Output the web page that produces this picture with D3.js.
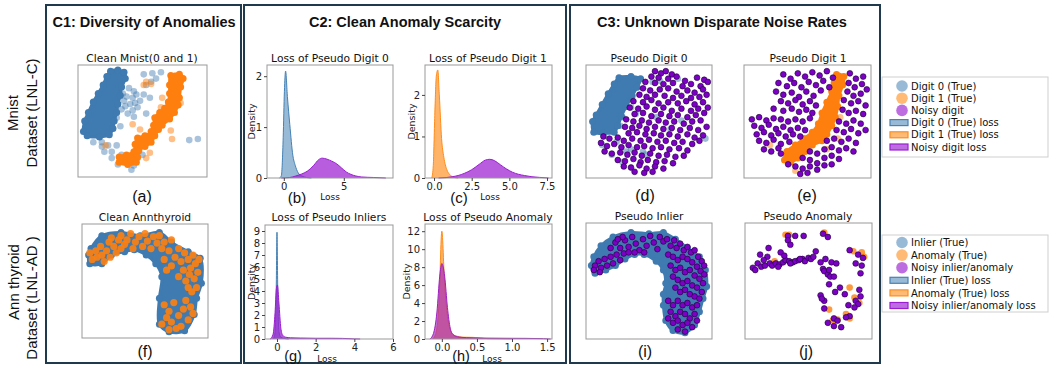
<!DOCTYPE html>
<html><head><meta charset="utf-8">
<script src="https://cdn.jsdelivr.net/npm/d3@7"></script>
<style>body{margin:0;background:#fff}svg{display:block}</style>
</head><body>
<script>
// ---------------- DATA ----------------
const sectionTitles = ["C1: Diversity of Anomalies", "C2: Clean Anomaly Scarcity", "C3: Unknown Disparate Noise Rates"];
const rowLabels = [["Mnist", "Dataset (LNL-C)"], ["Ann thyroid", "Dataset (LNL-AD )"]];
const panelLetters = ["(a)","(b)","(c)","(d)","(e)","(f)","(g)","(h)","(i)","(j)"];
const panelTitles = ["Clean Mnist(0 and 1)","Loss of Pseudo Digit 0","Loss of Pseudo Digit 1","Pseudo Digit 0","Pseudo Digit 1",
                     "Clean Annthyroid","Loss of Pseudo Inliers","Loss of Pseudo Anomaly","Pseudo Inlier","Pseudo Anomaly"];
const legendTop = ["Digit 0 (True)","Digit 1 (True)","Noisy digit","Digit 0 (True) loss","Digit 1 (True) loss","Noisy digit loss"];
const legendBottom = ["Inlier (True)","Anomaly (True)","Noisy inlier/anomaly","Inlier (True) loss","Anomaly (True) loss","Noisy inlier/anomaly loss"];

// (a) Clean Mnist — embedding coords (0-100)
const aBlueCluster = [[24,3],[30,2],[35,4],[36,10],[33,18],[32,26],[30,34],[29,42],[27,50],[26,57],[23,63],[15,65],[5,64],[2,60],[3,50],[6,42],[10,32],[14,24],[18,16],[21,8]];
const aOrangeCluster = [[73,7],[80,6],[83,10],[81,18],[80,28],[79,35],[76,42],[72,48],[66,54],[63,58],[60,64],[57,70],[52,74],[47,78],[46,84],[45,89],[38,91],[31,89],[31,84],[37,82],[43,79],[44,72],[46,66],[52,64],[57,60],[59,54],[60,47],[64,42],[68,38],[71,32],[72,24],[72,16]];
const aBluePts = [[51,6],[58,5],[65,4],[61,10],[43,22],[42,28],[35,31],[40,34],[33,39],[29,47],[43,46],[38,43],[42,40],[46,37],[48,31],[53,16],[57,13],[39,19],[34,24],[10,70],[17,74],[22,73],[25,79],[29,73],[33,82],[41,96],[43,92],[30,91],[95,67],[88,68],[17,70],[19,79],[25,85],[46,85],[50,82],[37,89],[32,55],[53,43],[56,28],[51,25],[36,36],[44,33],[37,27],[45,25]];
const aOrangePts = [[53,13],[57,15],[66,28],[74,27],[81,33],[65,37],[42,53],[48,58],[74,67],[73,59],[20,73],[53,85],[56,80],[51,16]];

// (f) Clean Annthyroid
const fBlueCluster = [[5,20],[14,8],[30,5],[46,8],[62,5],[72,14],[86,23],[96,29],[97,52],[93,66],[91,81],[83,96],[70,97],[62,90],[62,66],[64,46],[59,34],[51,26],[41,21],[33,23],[22,26],[14,34],[4,34],[3,26]];
const fOrangePts = [[4,24],[6,30],[9,22],[10,28],[13,18],[14,26],[16,32],[18,22],[20,14],[21,28],[24,18],[26,24],[28,12],[30,20],[33,16],
 [22,10],[30,8],[35,12],[38,6],[42,14],[45,9],[48,18],[50,6],[52,13],[55,20],[57,9],[60,15],[62,8],[64,20],[40,20],
 [66,14],[70,22],[72,12],[75,28],[78,20],[80,32],[83,24],[86,30],[88,38],[90,26],[92,34],[94,42],[95,30],[91,48],[87,44],[84,50],[93,56],[89,60],[82,40],[78,46],[66,30],[68,40],[72,36],[86,56],
 [66,72],[70,78],[74,70],[78,82],[82,76],[86,86],[80,92],[72,88],[68,84],[76,94],[84,68],[88,74],[90,80],[64,90],[70,95]];

// (d) Pseudo Digit 0
const dBlueCluster = [[25,9],[35,8],[43,10],[40,18],[36,26],[31,36],[27,45],[24,54],[21,60],[12,61],[4,60],[3,50],[6,44],[11,34],[16,24],[21,15]];
const dBluePts = [[36,21],[40,18],[53,13],[59,12],[74,10],[35,37],[39,43],[77,49],[97,66],[23,69],[31,78],[35,76],[47,81],[45,78],[28,88],[11,72],[19,81],[68,57],[56,46],[28,46],[26,54]];
const dNoisy = [[55,3],[60,5],[64,3],[69,6],[52,8],[58,9],[66,10],[73,8],[80,12],[90,9],[96,11],[47,13],[55,14],[62,15],[70,14],[78,17],[85,15],[93,17],[99,13],
 [45,19],[51,21],[59,20],[66,19],[73,22],[82,21],[88,23],[95,20],
 [42,25],[48,27],[55,25],[63,26],[70,28],[77,26],[85,28],[92,27],[98,25],
 [37,31],[45,32],[52,30],[58,33],[66,32],[74,33],[81,31],[88,34],[95,32],
 [34,37],[41,38],[48,36],[55,39],[62,37],[69,40],[77,38],[85,40],[91,38],[99,37],
 [38,43],[45,42],[52,45],[60,43],[67,45],[74,44],[82,46],[89,44],[96,42],
 [31,48],[37,50],[44,49],[50,51],[58,49],[64,51],[71,50],[79,52],[86,50],[93,49],
 [30,55],[36,56],[42,54],[48,57],[55,55],[62,57],[69,56],[76,58],[84,56],[91,58],[98,55],
 [33,61],[40,60],[47,62],[54,61],[60,63],[67,62],[74,64],[82,62],[88,65],[95,63],
 [12,64],[17,66],[24,65],[29,68],[36,66],[43,68],[50,67],[57,69],[64,68],[71,70],[78,69],[86,71],[92,68],
 [10,70],[15,73],[21,71],[27,74],[33,72],[40,74],[46,73],[53,75],[60,74],[67,76],[75,75],[82,77],
 [13,78],[19,80],[26,79],[32,81],[38,79],[44,82],[51,80],[58,82],[65,81],[72,83],[79,82],
 [24,86],[30,87],[37,85],[43,88],[49,86],[56,88],[63,87],[70,89],
 [29,92],[35,93],[42,91],[48,94],[55,92],[62,94],[38,97],[46,98],[53,97]];

// (e) Pseudo Digit 1
const eOrangeCluster = [[74,6],[80,8],[79,16],[76,26],[75,36],[73,46],[70,54],[66,62],[62,68],[54,72],[48,78],[42,84],[36,88],[31,86],[33,78],[40,72],[47,66],[54,60],[59,52],[62,42],[66,32],[70,22],[72,14]];
const eOrangePts = [[77,46],[40,96],[75,66],[66,76],[19,72]];
const eNoisy = [[30,6],[36,10],[42,5],[48,8],[54,4],[60,7],[66,3],[71,9],[85,5],[90,10],[96,8],
 [26,14],[33,17],[39,14],[45,18],[51,13],[57,16],[63,12],[68,18],[84,14],[89,18],[95,15],[99,20],
 [24,22],[30,25],[37,23],[43,27],[49,22],[55,26],[61,21],[83,22],[88,26],[94,24],
 [28,31],[34,33],[40,30],[46,34],[52,31],[57,35],[80,30],[86,33],[92,31],[98,35],
 [22,38],[30,40],[37,38],[43,41],[49,39],[54,42],[79,39],[84,42],[90,40],[96,43],
 [4,48],[10,46],[16,49],[22,47],[28,48],[34,50],[40,48],[46,50],[52,47],
 [6,54],[12,56],[18,53],[24,57],[30,55],[36,58],[42,56],[48,58],[76,50],[82,52],[88,49],[94,52],
 [8,62],[14,60],[20,63],[26,61],[32,64],[38,62],[44,64],[74,58],[80,60],[86,57],[92,61],[98,58],
 [10,68],[16,70],[22,67],[28,71],[35,69],[66,68],[72,66],[78,69],[84,66],[90,70],
 [14,76],[20,78],[26,75],[52,78],[58,80],[64,76],[70,74],[76,77],[82,75],[88,78],
 [34,90],[28,80],[46,84],[52,86],[58,89],[64,84],[70,82],[76,85],
 [40,92],[46,94],[52,92],[58,95],[64,91],[70,90],[44,99],[50,98]];

// (i) Pseudo Inlier
const iBlueCluster = [[4,28],[10,18],[20,10],[35,6],[50,7],[62,6],[72,12],[82,20],[92,28],[97,40],[98,55],[95,66],[92,78],[88,90],[80,97],[70,95],[64,86],[62,72],[62,62],[64,52],[62,40],[56,32],[46,26],[38,26],[30,30],[22,36],[14,40],[5,43],[2,36]];
const iNoisy = [[5,36],[4,40],[8,32],[10,38],[13,30],[15,36],[18,28],[20,34],[23,26],[26,31],[9,42],[29,25],
 [18,20],[22,15],[26,20],[30,13],[33,19],[36,10],[39,16],[42,22],[45,12],[48,18],[51,9],[54,15],[57,21],[59,10],[62,14],[38,24],[28,10],[46,24],[33,24],[24,12],
 [65,12],[68,18],[71,13],[73,20],[76,16],[79,22],[82,19],[85,24],[88,22],[91,28],[94,32],[96,36],[66,26],[70,28],[74,31],[78,28],[82,30],[86,33],[90,37],[93,41],[96,44],
 [68,36],[72,40],[76,38],[80,42],[84,40],[88,45],[92,48],[95,52],[70,46],[74,49],[78,52],[82,50],[86,54],[90,56],[94,60],[72,56],[76,60],[80,58],[84,62],[88,64],[92,66],
 [66,68],[70,72],[74,68],[78,72],[82,70],[86,74],[90,72],[68,78],[72,82],[76,78],[80,80],[84,84],[88,80],[70,88],[74,86],[78,90],[82,88],[86,92],[74,94],[80,96],[66,84],[90,86]];

// (j) Pseudo Anomaly
const jOrangePts = [[34,8],[63,6],[96,28],[87,23],[22,32],[84,56],[88,65],[81,80],[84,84],[70,86],[74,85],[92,70],[67,76],[31,8],[94,24]];
const jNoisy = [[4,38],[6,40],[8,34],[10,26],[11,37],[14,36],[16,28],[18,34],[20,36],[23,34],[26,35],[29,33],[31,31],[34,32],[37,33],[39,32],[42,31],[45,30],[47,32],[50,29],[52,30],[54,28],[56,23],[43,30],[35,34],[25,37],[13,31],
 [33,9],[39,9],[46,9],[33,13],[35,17],[17,20],[62,7],[66,10],[27,24],[30,27],
 [60,33],[62,39],[63,41],[66,44],[68,46],[71,46],[69,33],[73,34],[67,40],[64,30],
 [84,22],[91,26],[95,29],[93,43],[89,34],[94,36],
 [67,53],[72,60],[60,63],[63,68],[61,66],[63,75],[66,88],[71,91],[77,92],[71,84],[83,72],[84,82],[89,68],[91,71],[88,74],[92,58],[93,64],[80,62],[76,56],[81,83],[74,86]];

// KDE loss curves [loss, density]
const bDigit0 = [[-0.35,0],[-0.2,0.05],[-0.05,0.8],[0.05,1.7],[0.15,2.1],[0.3,1.6],[0.5,1.05],[0.75,0.45],[0.95,0.25],[1.2,0.1],[1.5,0.04],[1.9,0.01],[2.3,0]];
const bNoisy = [[-0.2,0],[0.5,0.01],[1,0.04],[1.5,0.08],[2,0.14],[2.5,0.25],[2.9,0.36],[3.2,0.39],[3.6,0.37],[4.0,0.33],[4.4,0.28],[4.8,0.2],[5.2,0.12],[5.6,0.07],[6,0.04],[6.5,0.02],[7.5,0.01],[8.5,0]];
const cDigit1 = [[-0.15,0],[-0.05,0.3],[0.05,1.5],[0.15,2.45],[0.25,2.6],[0.35,2.0],[0.5,0.95],[0.65,0.5],[0.85,0.2],[1.05,0.08],[1.3,0.02],[1.6,0]];
const cNoisy = [[0.3,0],[0.8,0.01],[1.2,0.03],[1.6,0.06],[2.0,0.11],[2.5,0.2],[3.0,0.33],[3.4,0.43],[3.7,0.45],[4.0,0.42],[4.4,0.32],[4.8,0.22],[5.2,0.14],[5.6,0.09],[6.0,0.06],[6.5,0.03],[7.0,0.015],[7.6,0]];
const gInlier = [[-0.2,0],[-0.1,0.5],[-0.04,4],[0,8.9],[0.04,4],[0.1,0.6],[0.2,0.15],[0.35,0.05],[0.6,0]];
const gNoisy = [[-0.35,0],[-0.2,0.4],[-0.1,2.2],[-0.03,4.2],[0.02,4.5],[0.1,3.0],[0.2,0.9],[0.3,0.3],[0.45,0.15],[0.7,0.1],[1.2,0.08],[2,0.06],[2.8,0.06],[3.4,0.05],[4,0.01],[4.3,0]];
const hAnomaly = [[-0.13,0],[-0.08,0.8],[-0.04,4],[0,12],[0.04,6],[0.08,2.5],[0.12,1],[0.16,0.5],[0.2,0.35],[0.3,0.2],[0.45,0.18],[0.55,0.12],[0.65,0.04],[0.8,0.02],[1.0,0]];
const hNoisy = [[-0.17,0],[-0.12,0.6],[-0.07,3],[-0.03,7],[0.0,8.4],[0.04,7],[0.08,3.5],[0.12,1.2],[0.16,0.5],[0.22,0.25],[0.35,0.15],[0.6,0.1],[0.9,0.08],[1.2,0.07],[1.45,0.04],[1.55,0]];

const bTicksX = [0,5], bTicksY = [0,1,2];
const cTicksX = [0,2.5,5,7.5], cTicksY = [0,1,2];
const gTicksX = [0,2,4,6], gTicksY = [0,1,2,3,4,5,6,7,8,9];
const hTicksX = [0,0.5,1,1.5], hTicksY = [0,2,4,6,8,10,12];

// ---------------- STYLE ----------------
const BLUE = "#3f7ab0", ORANGE = "#ff7f0e", PURPLE = "#7d00c6";
const KBLUE = "#4682b4", KORANGE = "#ff8c1a", KPURPLE = "#9b1fd0";
const BOX = "#1f3a4e", FRAME = "#999";
const SANS = "'Liberation Sans', Arial, sans-serif", DJ = "'DejaVu Sans', Verdana, sans-serif";

const svg = d3.select("body").append("svg").attr("width",1050).attr("height",366);

// section boxes
const boxes = [[46,5,195,358],[244,5,322,358],[570,5,310,358]];
const titleX = [144,405,722];
boxes.forEach((b,i)=>{
  svg.append("rect").attr("x",b[0]).attr("y",b[1]).attr("width",b[2]).attr("height",b[3])
    .attr("fill","none").attr("stroke",BOX).attr("stroke-width",2);
  svg.append("text").attr("x",titleX[i]).attr("y",27).attr("text-anchor","middle")
    .style("font-family",SANS).style("font-weight","bold").style("font-size","14.5px").attr("fill","#111")
    .text(sectionTitles[i]);
});

// row labels
[[18,37,113,113],[19,37,282,298]].forEach((p,i)=>{
  svg.append("text").attr("transform",`translate(${p[0]},${p[2]}) rotate(-90)`).attr("text-anchor","middle")
    .style("font-family",SANS).style("font-size","15px").attr("fill","#111").text(rowLabels[i][0]);
  svg.append("text").attr("transform",`translate(${p[1]},${p[3]}) rotate(-90)`).attr("text-anchor","middle")
    .style("font-family",SANS).style("font-size","15px").attr("fill","#111").text(rowLabels[i][1]);
});

function label(x,y,t,size,fam,anchor){
  return svg.append("text").attr("x",x).attr("y",y).attr("text-anchor",anchor||"middle")
    .style("font-family",fam||DJ).style("font-size",size+"px").attr("fill","#111").text(t);
}

// ---------------- SCATTER ----------------
function scatter(fr, layers){
  const g = svg.append("g");
  const x = d3.scaleLinear().domain([0,100]).range([fr[0]+3, fr[1]-3]);
  const y = d3.scaleLinear().domain([0,100]).range([fr[2]+3, fr[3]-3]);
  g.append("rect").attr("x",fr[0]).attr("y",fr[2]).attr("width",fr[1]-fr[0]).attr("height",fr[3]-fr[2])
    .attr("fill","#fff").attr("stroke",FRAME).attr("stroke-width",1);
  layers.forEach(L=>{
    if(L.type==="cluster"){
      const line = d3.line().x(d=>x(d[0])).y(d=>y(d[1])).curve(d3.curveCatmullRomClosed);
      g.append("path").attr("d",line(L.data)).attr("fill",L.color).attr("stroke",L.color).attr("stroke-width",3).attr("stroke-linejoin","round");
      g.selectAll(null).data(L.data).enter().append("circle")
        .attr("cx",d=>x(d[0])).attr("cy",d=>y(d[1])).attr("r",3.5).attr("fill",L.color);
    } else {
      g.selectAll(null).data(L.data).enter().append("circle")
        .attr("cx",d=>x(d[0])).attr("cy",d=>y(d[1])).attr("r",L.r||3.3)
        .attr("fill",L.color).attr("fill-opacity",L.op==null?1:L.op)
        .attr("stroke",L.stroke||"none").attr("stroke-width",L.sw||0);
    }
  });
}

scatter([78,207,65,177],[
  {type:"pts",data:aBluePts,color:BLUE,op:0.45},
  {type:"pts",data:aOrangePts,color:ORANGE,op:0.5},
  {type:"cluster",data:aBlueCluster,color:BLUE},
  {type:"cluster",data:aOrangeCluster,color:ORANGE}]);
scatter([82,208,224,338],[
  {type:"cluster",data:fBlueCluster,color:BLUE},
  {type:"pts",data:fOrangePts,color:ORANGE,op:0.9,r:3.6}]);
scatter([586,712,65,178],[
  {type:"pts",data:dBluePts,color:BLUE,op:0.5},
  {type:"cluster",data:dBlueCluster,color:BLUE},
  {type:"pts",data:dNoisy,color:PURPLE,r:2.9,stroke:"#1a0030",sw:0.6}]);
scatter([744,871,65,178],[
  {type:"pts",data:eOrangePts,color:ORANGE,op:0.5},
  {type:"cluster",data:eOrangeCluster,color:ORANGE},
  {type:"pts",data:eNoisy,color:PURPLE,r:2.9,stroke:"#1a0030",sw:0.6}]);
scatter([586,712,223,339],[
  {type:"cluster",data:iBlueCluster,color:BLUE},
  {type:"pts",data:iNoisy,color:PURPLE,r:2.9,stroke:"#1a0030",sw:0.6}]);
scatter([745,872,223,339],[
  {type:"pts",data:jOrangePts,color:ORANGE,op:0.8,r:3.3},
  {type:"pts",data:jNoisy,color:PURPLE,r:2.9,stroke:"#1a0030",sw:0.6}]);

// ---------------- KDE ----------------
function kde(fr, xd, yd, xt, yt, fmt, series, densX){
  const g = svg.append("g");
  const x = d3.scaleLinear().domain(xd).range([fr[0],fr[1]]);
  const y = d3.scaleLinear().domain(yd).range([fr[3],fr[2]]);
  g.append("rect").attr("x",fr[0]).attr("y",fr[2]).attr("width",fr[1]-fr[0]).attr("height",fr[3]-fr[2])
    .attr("fill","#fff");
  const area = d3.area().x(d=>x(d[0])).y0(y(0)).y1(d=>y(d[1])).curve(d3.curveMonotoneX);
  const line = d3.line().x(d=>x(d[0])).y(d=>y(d[1])).curve(d3.curveMonotoneX);
  series.forEach(s=>{
    g.append("path").attr("d",area(s.data)).attr("fill",s.color).attr("fill-opacity",s.op);
    g.append("path").attr("d",line(s.data)).attr("fill","none").attr("stroke",s.color).attr("stroke-width",1);
  });
  g.append("rect").attr("x",fr[0]).attr("y",fr[2]).attr("width",fr[1]-fr[0]).attr("height",fr[3]-fr[2])
    .attr("fill","none").attr("stroke",FRAME);
  const ax = g.append("g").attr("transform",`translate(0,${fr[3]})`)
    .call(d3.axisBottom(x).tickValues(xt).tickFormat(fmt).tickSize(3).tickPadding(2));
  const ay = g.append("g").attr("transform",`translate(${fr[0]},0)`)
    .call(d3.axisLeft(y).tickValues(yt).tickFormat(d3.format("d")).tickSize(3).tickPadding(2));
  [ax,ay].forEach(a=>{
    a.select(".domain").remove();
    a.selectAll("line").attr("stroke","#444");
    a.selectAll("text").style("font-family",DJ).style("font-size","10px").attr("fill","#222");
  });
  svg.append("text").attr("transform",`translate(${densX},${(fr[2]+fr[3])/2}) rotate(-90)`).attr("text-anchor","middle")
    .style("font-family",DJ).style("font-size","9.5px").attr("fill","#222").text("Density");
}

kde([267,393,65,178],[-1.4,9.1],[0,2.22],bTicksX,bTicksY,d3.format("d"),
  [{data:bDigit0,color:KBLUE,op:0.55},{data:bNoisy,color:KPURPLE,op:0.72}],255);
kde([425,552,65,178],[-0.6,7.83],[0,2.72],cTicksX,cTicksY,d3.format(".1f"),
  [{data:cDigit1,color:KORANGE,op:0.65},{data:cNoisy,color:KPURPLE,op:0.72}],415);
kde([265,393,225,339],[-0.62,6.0],[0,9.5],gTicksX,gTicksY,d3.format("d"),
  [{data:gInlier,color:KBLUE,op:0.55},{data:gNoisy,color:KPURPLE,op:0.75}],255);
kde([425,552,224,339],[-0.24,1.57],[0,12.8],hTicksX,hTicksY,d3.format(".1f"),
  [{data:hAnomaly,color:KORANGE,op:0.65},{data:hNoisy,color:"#a020c0",op:0.65}],410);

// panel titles
const titlePos = [[142,62],[330,62],[488,62],[649,62],[808,62],[145,221],[329,221],[488,221],[649,220],[808,220]];
titlePos.forEach((p,i)=>label(p[0],p[1],panelTitles[i],10.7,DJ));
// panel letters
const letterPos = [[142,202],[297,203],[459,203],[645,201],[807,201],[145,357],[293,361],[461,361],[645,357],[806,357]];
const letterSize = [16,15,15,16,16,16,14.5,14.5,16,16];
letterPos.forEach((p,i)=>label(p[0],p[1],panelLetters[i],letterSize[i],SANS));
// Loss labels
[[330,200],[490,200],[327,362],[492,362]].forEach(p=>label(p[0],p[1],"Loss",9,DJ));

// ---------------- LEGENDS ----------------
function legend(x0,y0,w,h,items,startY,step){
  const g = svg.append("g");
  g.append("rect").attr("x",x0).attr("y",y0).attr("width",w).attr("height",h).attr("fill","#fff").attr("stroke","#cfcfcf");
  const cols = [[KBLUE,0.55],[KORANGE,0.6],[KPURPLE,0.65]];
  items.forEach((t,i)=>{
    const cy = startY + i*step;
    const c = cols[i%3];
    if(i<3){
      g.append("circle").attr("cx",x0+20).attr("cy",cy).attr("r",5.8).attr("fill",c[0]).attr("fill-opacity",c[1]);
    } else {
      g.append("rect").attr("x",x0+8).attr("y",cy-3).attr("width",18).attr("height",6)
        .attr("fill",c[0]).attr("fill-opacity",c[1]).attr("stroke",c[0]).attr("stroke-width",1.2);
    }
    g.append("text").attr("x",x0+29).attr("y",cy+3.6).style("font-family",DJ).style("font-size","10px").attr("fill","#111").text(t);
  });
}
legend(882,77,166,80,legendTop,86,12.2);
legend(882,235,166,77,legendBottom,242.5,12.6);
</script>
</body></html>
